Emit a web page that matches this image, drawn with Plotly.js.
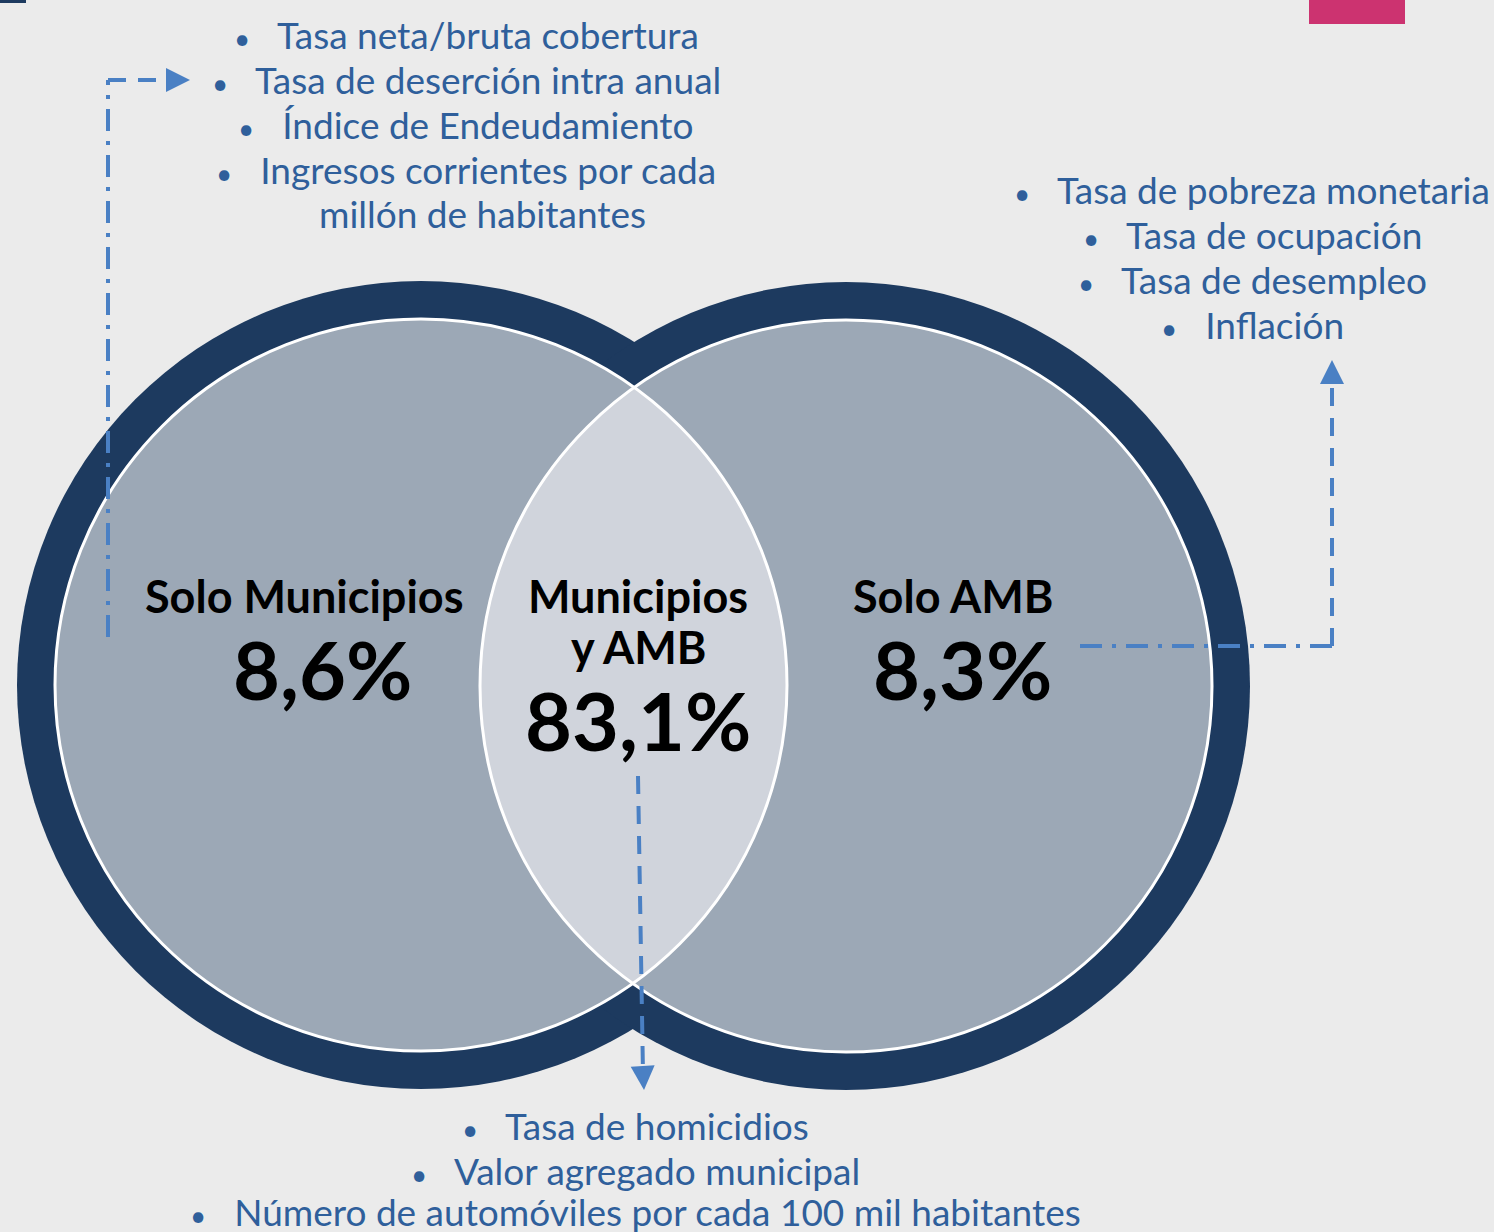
<!DOCTYPE html>
<html>
<head>
<meta charset="utf-8">
<script src="https://cdn.plot.ly/plotly-3.0.1.min.js"></script>
<style>
  html, body { margin: 0; padding: 0; background: #ebebeb; }
  #chart { width: 1494px; height: 1232px; }
</style>
</head>
<body>
<div id="chart"></div>
<script>
// ---------- DATA ----------
const regionNames = ["Solo Municipios", "Municipios<br>y AMB", "Solo AMB"];
const regionShares = [8.6, 83.1, 8.3];
const listMunicipios = ["Tasa neta/bruta cobertura", "Tasa de deserción intra anual", "Índice de Endeudamiento", "Ingresos corrientes por cada", "millón de habitantes"];
const listAmbos = ["Tasa de homicidios", "Valor agregado municipal", "Número de automóviles por cada 100 mil habitantes"];
const listAMB = ["Tasa de pobreza monetaria", "Tasa de ocupación", "Tasa de desempleo", "Inflación"];

// ---------- LAYOUT CONSTANTS ----------
const W = 1494, H = 1232;
const NAVY = "#1d3a5f", GREY = "#9ca8b6", LENS = "#d0d4dc", TXT = "#2f5f9b", LINE = "#4a80c4";
const C1 = {cx: 421, cy: 685, r: 366}, C2 = {cx: 846, cy: 686, r: 366};
const RING = 38;
const LIST_SIZE = 37, NAME_SIZE = 45, PCT_SIZE = 81;

function fmt(v) { return v.toFixed(1).replace(".", ",") + "%"; }

function circleShape(c, extra, fill, line) {
  return {type: "circle", xref: "x", yref: "y",
    x0: c.cx - c.r - extra, x1: c.cx + c.r + extra,
    y0: c.cy - c.r - extra, y1: c.cy + c.r + extra,
    fillcolor: fill, line: line, layer: "above"};
}

// lens path (intersection of two inner circles)
function lensPath() {
  const dx = C2.cx - C1.cx, dy = C2.cy - C1.cy, d = Math.hypot(dx, dy);
  const a = d / 2;
  const a1 = Math.atan2(dy, dx), t1 = Math.acos(a / C1.r);
  const a2 = Math.atan2(-dy, -dx), t2 = Math.acos(a / C2.r);
  let pts = [];
  const N = 80;
  for (let i = 0; i <= N; i++) {
    const t = a1 - t1 + (2 * t1) * i / N;
    pts.push([C1.cx + C1.r * Math.cos(t), C1.cy + C1.r * Math.sin(t)]);
  }
  for (let i = 0; i <= N; i++) {
    const t = a2 - t2 + (2 * t2) * i / N;
    pts.push([C2.cx + C2.r * Math.cos(t), C2.cy + C2.r * Math.sin(t)]);
  }
  return "M" + pts.map(p => p[0].toFixed(2) + "," + p[1].toFixed(2)).join("L") + "Z";
}

const shapes = [];
// decorative corner marks
shapes.push({type: "rect", xref: "x", yref: "y", x0: 0, x1: 26, y0: 0, y1: 3, fillcolor: NAVY, line: {width: 0}});
shapes.push({type: "rect", xref: "x", yref: "y", x0: 1309, x1: 1405, y0: 0, y1: 24, fillcolor: "#cc3370", line: {width: 0}});
// circles
shapes.push(circleShape(C1, RING, NAVY, {width: 0}));
shapes.push(circleShape(C2, RING, NAVY, {width: 0}));
shapes.push(circleShape(C1, 0, GREY, {width: 0}));
shapes.push(circleShape(C2, 0, GREY, {width: 0}));
shapes.push({type: "path", xref: "x", yref: "y", path: lensPath(), fillcolor: LENS, line: {width: 0}, layer: "above"});
shapes.push(circleShape(C1, 0, "rgba(0,0,0,0)", {color: "#ffffff", width: 3}));
shapes.push(circleShape(C2, 0, "rgba(0,0,0,0)", {color: "#ffffff", width: 3}));

// connectors
const DASH = "18px,12px", DASHDOT = "22px,10px,4px,10px";
function seg(x0, y0, x1, y1, dash) {
  shapes.push({type: "line", xref: "x", yref: "y", x0, y0, x1, y1, line: {color: LINE, width: 4, dash}, layer: "above"});
}
seg(108, 637, 108, 80, DASHDOT);
seg(108, 80, 176, 80, DASH);
seg(1080, 646, 1332, 646, DASHDOT);
seg(1332, 646, 1332, 376, DASH);
seg(638, 776, 643, 1074, DASH);

const annotations = [];
function arrowHead(x, y, ax, ay) {
  annotations.push({x, y, ax, ay, xref: "x", yref: "y", axref: "x", ayref: "y", text: "",
    showarrow: true, arrowhead: 2, arrowsize: 1.2, arrowwidth: 4, arrowcolor: LINE});
}
arrowHead(190, 80, 174, 80);
arrowHead(1332, 360, 1332, 378);
arrowHead(644, 1090, 643, 1072);

function txt(x, y, text, size, color, bold, family) {
  annotations.push({x, y, xref: "x", yref: "y", text: bold ? "<b>" + text + "</b>" : text, showarrow: false,
    xanchor: "center", yanchor: "middle",
    font: {size, color, family: family || "Lato, 'Noto Sans', sans-serif"}});
}
const B = "<span style='font-size:28px'>•</span>\u2002 ";
// Municipios list
const munY = [34, 79, 124, 169, 213];
listMunicipios.forEach((s, i) => {
  if (i < 4) txt(466, munY[i], B + s, LIST_SIZE, TXT);
  else txt(482, munY[i], s, LIST_SIZE, TXT);
});
// AMB list
const ambY = [189, 234, 279, 324];
listAMB.forEach((s, i) => txt(1252, ambY[i], B + s, LIST_SIZE, TXT));
// Both list
const bothY = [1125, 1170, 1211];
listAmbos.forEach((s, i) => txt(635, bothY[i], B + s, LIST_SIZE, TXT));

// region labels
txt(304, 596, regionNames[0], NAME_SIZE, "#000", true);
txt(322, 668, fmt(regionShares[0]), PCT_SIZE, "#000", true);
txt(638, 596, "Municipios", NAME_SIZE, "#000", true);
txt(638, 647, "y AMB", NAME_SIZE, "#000", true);
txt(638, 719, fmt(regionShares[1]), PCT_SIZE, "#000", true);
txt(953, 596, regionNames[2], NAME_SIZE, "#000", true);
txt(962, 668, fmt(regionShares[2]), PCT_SIZE, "#000", true);

const layout = {
  width: W, height: H,
  margin: {l: 0, r: 0, t: 0, b: 0},
  paper_bgcolor: "#ebebeb", plot_bgcolor: "#ebebeb",
  xaxis: {range: [0, W], visible: false, fixedrange: true},
  yaxis: {range: [H, 0], visible: false, fixedrange: true},
  showlegend: false,
  shapes, annotations
};
Plotly.newPlot("chart", [{x: [0], y: [0], mode: "markers", marker: {opacity: 0}, hoverinfo: "skip"}], layout, {staticPlot: true});
</script>
</body>
</html>
